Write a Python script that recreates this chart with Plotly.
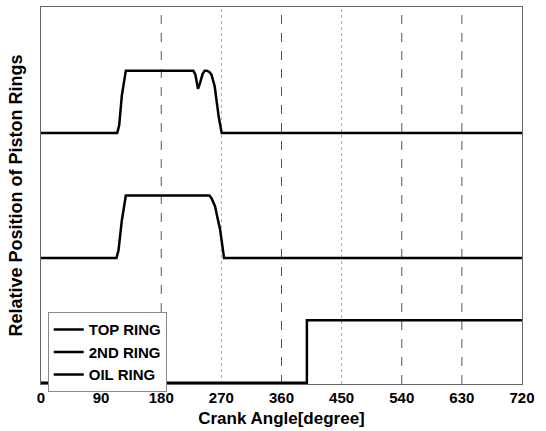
import plotly.graph_objects as go

# Data (crank angle in degrees, relative position)
top_x = [0, 114, 117, 121, 127, 228, 231, 233, 235, 238, 242, 245, 248, 252, 255, 260, 263, 266, 270.5, 720]
top_y = [4, 4, 4.12, 4.6, 5, 5, 4.94, 4.8, 4.71, 4.8, 4.95, 5.0, 5.0, 4.98, 4.94, 4.75, 4.5, 4.26, 4.0, 4.0]

second_x = [0, 113, 116, 121, 127, 252, 255, 260.5, 264, 268, 274, 720]
second_y = [2, 2, 2.12, 2.6, 3, 3, 2.96, 2.83, 2.65, 2.46, 2.0, 2.0]

oil_x = [0, 398, 398, 720]
oil_y = [0, 0, 1, 1]

names = ["TOP RING", "2ND RING", "OIL RING"]
x_ticks = [0, 90, 180, 270, 360, 450, 540, 630, 720]
grid_x = [180, 270, 360, 450, 540, 630]
grid_strong = [True, False, True, False, True, True]

FONT = "Liberation Sans"

fig = go.Figure()

for gx, strong in zip(grid_x, grid_strong):
    fig.add_vline(x=gx, layer="below",
                  line=dict(color="#555" if strong else "#aaa",
                            width=1, dash="dash" if strong else "dot"))

for xs, ys, nm in [(top_x, top_y, names[0]), (second_x, second_y, names[1]), (oil_x, oil_y, names[2])]:
    fig.add_trace(go.Scatter(x=xs, y=ys, mode="lines", name=nm,
                             line=dict(color="black", width=2.5)))

fig.update_layout(
    width=546, height=431,
    margin=dict(l=41, r=24, t=7, b=47),
    plot_bgcolor="white", paper_bgcolor="white",
    font=dict(family=FONT, color="black", size=15, weight="bold"),
    showlegend=True,
    legend=dict(x=0.014, y=0.19, xanchor="left", yanchor="top",
                bgcolor="white", bordercolor="#888", borderwidth=1,
                font=dict(family=FONT, size=15, weight="bold"),
                itemwidth=30, tracegroupgap=0),
    xaxis=dict(range=[0, 720], tickvals=x_ticks, ticktext=[str(t) for t in x_ticks],
               automargin=False,
               showgrid=False,
               showline=True, mirror=True, linecolor="#666", linewidth=1,
               ticks="", zeroline=False,
               tickfont=dict(family=FONT, size=15, weight="bold"),
               title=dict(text="Crank Angle[degree]", standoff=7,
                          font=dict(family=FONT, size=17, weight="bold"))),
    yaxis=dict(range=[-0.02, 6.02], showticklabels=False, showgrid=False,
               automargin=False,
               showline=True, mirror=True, linecolor="#666", linewidth=1,
               ticks="", zeroline=False,
               title=dict(text="Relative Position of Piston Rings", standoff=12,
                          font=dict(family=FONT, size=18, weight="bold"))),
)

fig.write_html("out.html", config={"displayModeBar": False},
               post_script="document.body.style.margin='0';document.body.style.padding='0';")
